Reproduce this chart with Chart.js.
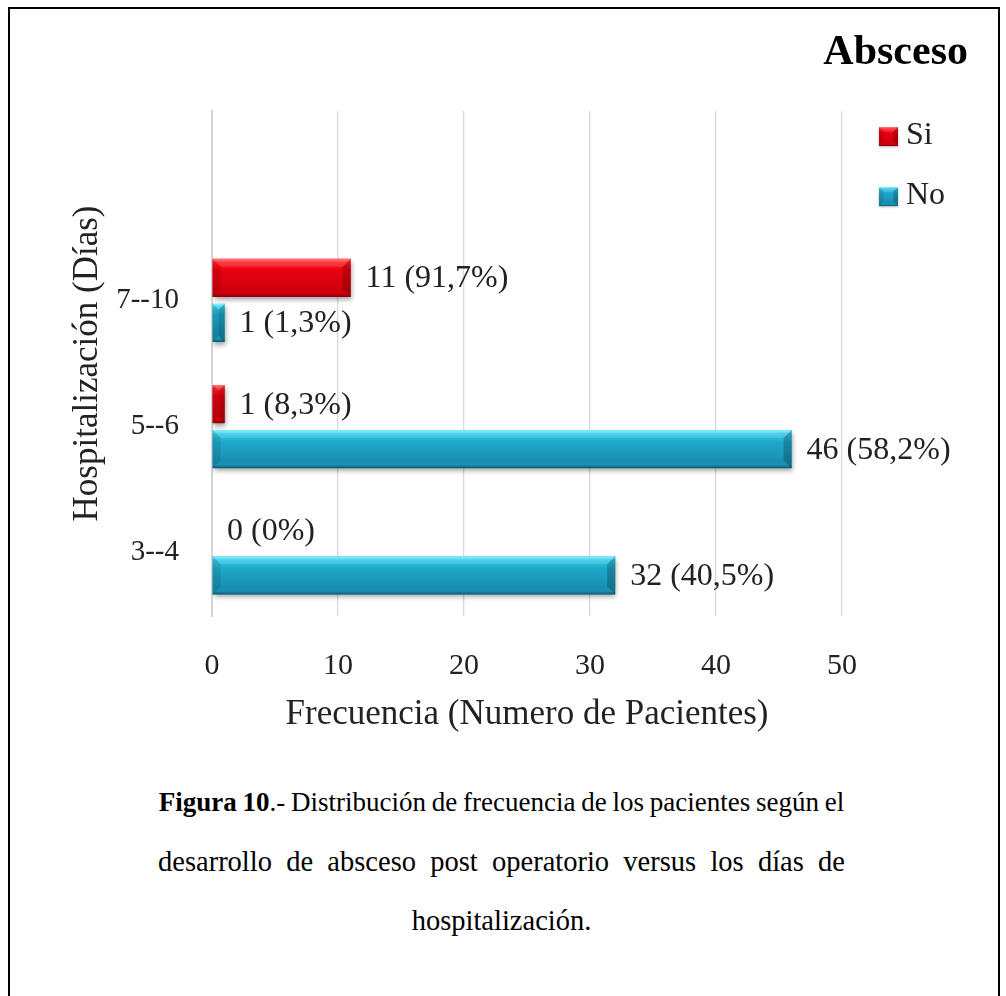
<!DOCTYPE html>
<html lang="es">
<head>
<meta charset="utf-8">
<title>Absceso</title>
<script src="https://cdn.jsdelivr.net/npm/chart.js@4/dist/chart.umd.min.js"></script>
<style>
  html, body { margin: 0; padding: 0; background: #fff; }
  body { width: 1006px; height: 996px; position: relative; overflow: hidden;
         font-family: "Liberation Serif", "Times New Roman", serif; color: #000; }
  #frame { position: absolute; left: 8px; top: 7px; width: 988px; height: 1010px;
           border: 2.5px solid #000; }
  #chartBox { position: absolute; left: 0; top: 0; width: 1006px; height: 760px; }
  .cap { position: absolute; left: 158px; width: 687px; font-size: 28.5px; line-height: 59px;
         white-space: nowrap; }
  .tight { text-align: center; font-size: 27px; word-spacing: -1px; left: 108px; width: 787px; }
  .just { text-align: justify; text-align-last: justify; }
  .mid { text-align: center; }
</style>
</head>
<body>
<div id="frame"></div>
<div id="chartBox"><canvas id="grafico"></canvas></div>
<div class="cap tight" style="top:773px"><b>Figura 10</b>.- Distribución de frecuencia de los pacientes según el</div>
<div class="cap just" style="top:832px">desarrollo de absceso post operatorio versus los días de</div>
<div class="cap mid" style="top:891px">hospitalización.</div>

<script>
// Hospitalisation ranges, listed from the bottom of the axis upwards
const CATEGORIAS = ['3--4', '5--6', '7--10'];
// Patients with / without post-operative abscess for each range
const SI = [0, 1, 11];
const NO = [32, 46, 1];
const SERIES = ['Si', 'No'];
const X_TICKS = [0, 10, 20, 30, 40, 50];

const FONT = '"Liberation Serif", "Times New Roman", serif';
const TEXT = '#222222';

const PALETA = {
  Si: { light: '#ff6a6a', top: '#ff1d26', mid: '#ea0010', low: '#cf000d', dark: '#7a0008' },
  No: { light: '#7af2ff', top: '#35c9e6', mid: '#1fa9cc', low: '#1890b1', dark: '#0c5366' }
};

Chart.defaults.font.family = FONT;
Chart.defaults.color = TEXT;

function fmtPct(p) {
  return p === 0 ? '0' : p.toFixed(1).replace('.', ',');
}

function bevelRect(c, x0, y0, w, h, pal) {
  const x1 = x0 + w, y1 = y0 + h;
  const g = c.createLinearGradient(0, y0, 0, y1);
  g.addColorStop(0, pal.light);
  g.addColorStop(0.1, pal.top);
  g.addColorStop(0.3, pal.mid);
  g.addColorStop(0.8, pal.low);
  g.addColorStop(0.92, pal.low);
  g.addColorStop(1, pal.dark);
  c.fillStyle = g;
  c.fillRect(x0, y0, w, h);
  const b = Math.min(8, w / 2, h / 4);
  const poly = (pts, fill) => {
    c.beginPath();
    c.moveTo(pts[0][0], pts[0][1]);
    for (let i = 1; i < pts.length; i++) c.lineTo(pts[i][0], pts[i][1]);
    c.closePath();
    c.fillStyle = fill;
    c.fill();
  };
  poly([[x0, y0], [x0 + b, y0 + b], [x0 + b, y1 - b], [x0, y1]], 'rgba(0,0,0,0.10)');
  poly([[x1, y0], [x1 - b, y0 + b], [x1 - b, y1 - b], [x1, y1]], 'rgba(0,0,0,0.20)');
  poly([[x0, y0], [x1, y0], [x1 - b, y0 + b], [x0 + b, y0 + b]], 'rgba(255,255,255,0.12)');
}

// Soft drop shadow under the bars, bevelled fill on top, then value labels
const bevelBars = {
  id: 'bevelBars',
  beforeDatasetsDraw(chart) {
    const c = chart.ctx;
    c.save();
    c.shadowColor = 'rgba(0,0,0,0.38)';
    c.shadowBlur = 5;
    c.shadowOffsetX = 1;
    c.shadowOffsetY = 3;
  },
  afterDatasetsDraw(chart) {
    const c = chart.ctx;
    c.restore();
    chart.data.datasets.forEach((ds, di) => {
      const meta = chart.getDatasetMeta(di);
      const pal = PALETA[ds.label];
      const total = ds.data.reduce((s, p) => s + p.x, 0);
      meta.data.forEach((bar, i) => {
        const { x, y, base, height } = bar.getProps(['x', 'y', 'base', 'height'], true);
        const x0 = Math.min(x, base), w = Math.abs(x - base);
        if (w > 0.5) bevelRect(c, x0, y - height / 2, w, height, pal);
        const v = ds.data[i].x;
        c.save();
        c.font = '32px ' + FONT;
        c.fillStyle = TEXT;
        c.textAlign = 'left';
        c.textBaseline = 'middle';
        c.fillText(v + ' (' + fmtPct(v / total * 100) + '%)', x + 15, y + 1);
        c.restore();
      });
    });
  }
};

// Heading and series key in the upper right corner
const cabecera = {
  id: 'cabecera',
  afterDraw(chart) {
    const c = chart.ctx;
    c.save();
    c.fillStyle = '#000';
    c.font = 'bold 42px ' + FONT;
    c.textAlign = 'right';
    c.textBaseline = 'middle';
    c.fillText('Absceso', 968, 53);
    chart.data.datasets.forEach((ds, i) => {
      const cy = 136 + i * 60;
      const pal = PALETA[ds.label];
      c.save();
      c.shadowColor = 'rgba(0,0,0,0.3)';
      c.shadowBlur = 2;
      c.shadowOffsetY = 1;
      c.fillStyle = pal.mid;
      c.fillRect(879, cy - 9, 19, 19);
      c.restore();
      bevelRect(c, 879, cy - 9, 19, 19, pal);
      c.font = '32px ' + FONT;
      c.fillStyle = TEXT;
      c.textAlign = 'left';
      c.fillText(ds.label, 906, cy);
    });
    c.restore();
  }
};

const toPoints = arr => arr.map((v, i) => ({ x: v, y: i }));

new Chart(document.getElementById('grafico'), {
  type: 'bar',
  data: {
    datasets: [
      { label: SERIES[0], data: toPoints(SI), backgroundColor: PALETA.Si.mid },
      { label: SERIES[1], data: toPoints(NO), backgroundColor: PALETA.No.mid }
    ]
  },
  plugins: [bevelBars, cabecera],
  options: {
    indexAxis: 'y',
    responsive: true,
    maintainAspectRatio: false,
    animation: false,
    categoryPercentage: 0.713,
    barPercentage: 0.845,
    layout: { padding: { top: 111, left: 67, right: 164, bottom: 20 } },
    plugins: {
      legend: { display: false },
      tooltip: { enabled: false }
    },
    scales: {
      x: {
        type: 'linear',
        min: X_TICKS[0],
        max: X_TICKS[X_TICKS.length - 1],
        afterBuildTicks: s => { s.ticks = X_TICKS.map(v => ({ value: v })); },
        ticks: { padding: 32, font: { size: 30 }, color: TEXT },
        grid: { color: '#d9d9d9', lineWidth: 1.3, drawTicks: false },
        border: { display: false },
        title: {
          display: true, text: 'Frecuencia (Numero de Pacientes)',
          font: { size: 35 }, color: TEXT, padding: { top: 14, bottom: 4 }
        },
        afterFit: s => { s.height = 124; }
      },
      y: {
        type: 'linear',
        offset: false,
        min: -0.5,
        max: CATEGORIAS.length + 0.5,
        afterBuildTicks: s => { s.ticks = CATEGORIAS.map((_, i) => ({ value: i })); },
        ticks: { callback: v => CATEGORIAS[v], padding: 33, font: { size: 29 }, color: TEXT },
        grid: { display: false, drawTicks: false },
        border: { display: true, color: '#d4d4d4', width: 2 },
        title: {
          display: true, text: 'Hospitalización (Días)',
          font: { size: 35 }, color: TEXT, padding: { top: 0, bottom: 0 }
        },
        afterFit: s => { s.width = 145; }
      }
    }
  }
});
</script>
</body>
</html>
